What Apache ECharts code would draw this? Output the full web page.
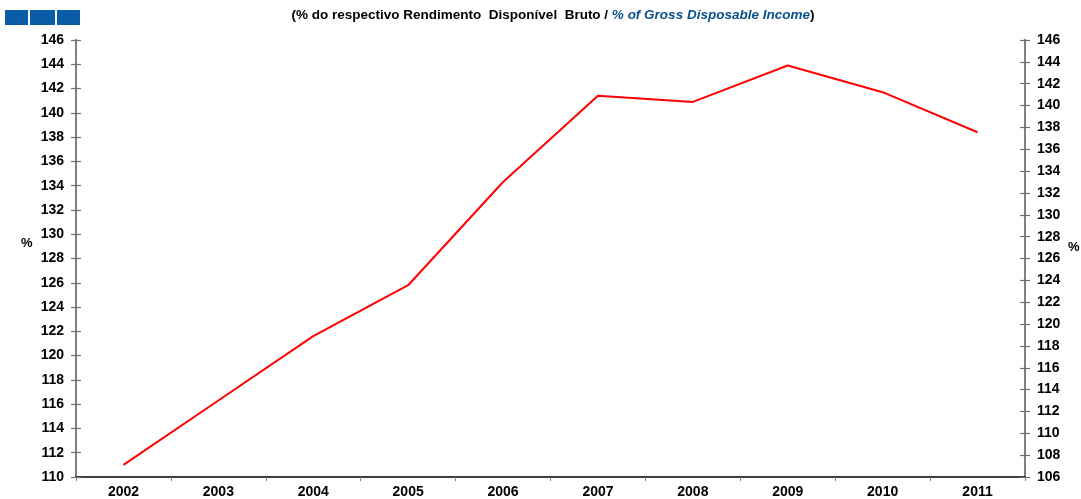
<!DOCTYPE html>
<html>
<head>
<meta charset="utf-8">
<script src="https://cdn.jsdelivr.net/npm/echarts@6/dist/echarts.min.js"></script>
<style>
  html, body { margin: 0; padding: 0; background: #fff; }
  #chart { width: 1081px; height: 499px; }
</style>
</head>
<body>
<div id="chart"></div>
<script>
// Household debt as % of gross disposable income
const years = ['2002', '2003', '2004', '2005', '2006', '2007', '2008', '2009', '2010', '2011'];
const debtRatio = [111.0, 116.3, 121.6, 125.8, 134.3, 141.4, 140.9, 143.9, 141.7, 138.4];

const leftMin = 110, leftMax = 146, leftStep = 2;
const rightMin = 106, rightMax = 146, rightStep = 2;

const FONT = '"Liberation Sans", Arial, sans-serif';
const labelStyle = { color: '#000', fontWeight: 'bold', fontSize: 14, fontFamily: FONT };

const chart = echarts.init(document.getElementById('chart'), null, { renderer: 'canvas' });

// Each side gets two copies of the axis so the ticks cross the axis line.
function yAxisDef(pos, min, max, step, inside, showLabels) {
  return {
    type: 'value', position: pos, min: min, max: max, interval: step,
    axisLine: { show: true, lineStyle: { color: '#808080', width: 2 } },
    axisTick: { show: true, inside: inside, length: 5, lineStyle: { color: '#707070', width: 1.2 } },
    axisLabel: Object.assign({ show: showLabels, margin: 12 }, labelStyle),
    splitLine: { show: false }
  };
}

chart.setOption({
  animation: false,
  backgroundColor: '#fff',
  title: {
    left: 548, top: 3, textAlign: 'center',
    text: '{a|(% do respectivo Rendimento  Disponível  Bruto / }{b|% of Gross Disposable Income}{a|)}',
    textStyle: {
      rich: {
        a: { fontFamily: FONT, fontWeight: 'bold', fontSize: 13.5, color: '#000' },
        b: { fontFamily: FONT, fontWeight: 'bold', fontStyle: 'italic', fontSize: 13.5, color: '#0b4f8c' }
      }
    }
  },
  graphic: [
    { type: 'rect', shape: { x: 5, y: 10, width: 23, height: 15 }, style: { fill: '#0a5ca6' } },
    { type: 'rect', shape: { x: 30, y: 10, width: 25, height: 15 }, style: { fill: '#0a5ca6' } },
    { type: 'rect', shape: { x: 57, y: 10, width: 23, height: 15 }, style: { fill: '#0a5ca6' } },
    { type: 'text', left: 21, top: 237, style: { text: '%', fontFamily: FONT, fontWeight: 'bold', fontSize: 13, fill: '#000' } },
    { type: 'text', left: 1068, top: 241, style: { text: '%', fontFamily: FONT, fontWeight: 'bold', fontSize: 13, fill: '#000' } }
  ],
  grid: { left: 76, right: 56, top: 40, bottom: 16, containLabel: false },
  xAxis: {
    type: 'category', data: years, boundaryGap: true,
    axisLine: { show: true, lineStyle: { color: '#000', width: 1.5 } },
    axisTick: { show: true, alignWithLabel: false, length: 4, lineStyle: { color: '#808080' } },
    axisLabel: Object.assign({ margin: 8 }, labelStyle),
    splitLine: { show: false }
  },
  yAxis: [
    yAxisDef('left', leftMin, leftMax, leftStep, false, true),
    yAxisDef('left', leftMin, leftMax, leftStep, true, false),
    yAxisDef('right', rightMin, rightMax, rightStep, false, true),
    yAxisDef('right', rightMin, rightMax, rightStep, true, false)
  ],
  series: [{
    type: 'line', yAxisIndex: 0, data: debtRatio,
    symbol: 'none', smooth: false,
    lineStyle: { color: '#ff0000', width: 2 }
  }]
});
</script>
</body>
</html>
